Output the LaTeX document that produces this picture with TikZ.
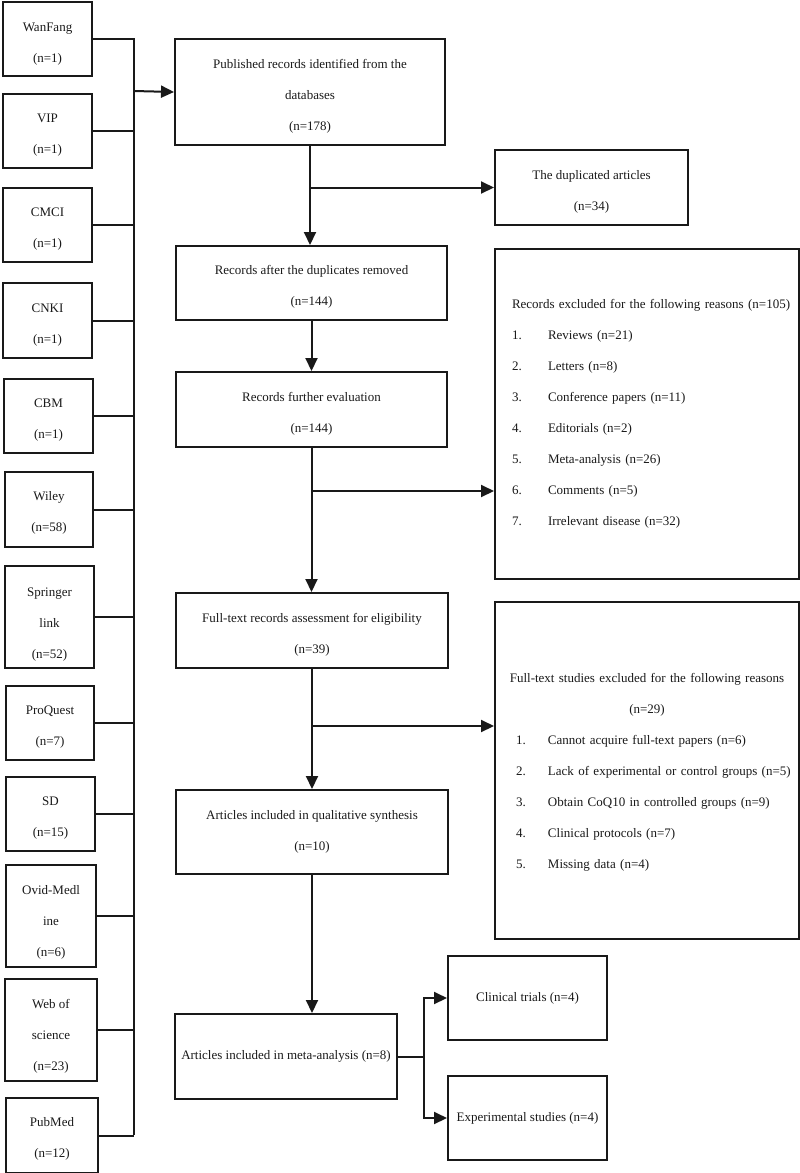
\documentclass[tikz,border=0pt]{standalone}
\usepackage{fontspec}
\setmainfont{Liberation Serif}
\usetikzlibrary{arrows.meta,calc}
\newcommand{\myLline}[1]{\makebox[\linewidth][l]{#1}}
\newcommand{\myCline}[1]{\makebox[\linewidth][c]{#1}}
\newcommand{\myUp}[1]{\rule{0pt}{#1}}
\begin{document}
\begin{tikzpicture}[x=1pt,y=-1pt,
  box/.style={draw=black!90, line width=2pt, align=center, anchor=north west,
    inner sep=2pt, font=\fontsize{13}{31}\selectfont, text=black!90},
  ln/.style={draw=black!90, line width=2pt},
  arr/.style={ln, -{Triangle[length=13pt,width=12pt]}}]
\useasboundingbox (0,0) rectangle (800,1173);
% left sources
\node[box, minimum width=89pt, minimum height=74pt] (wanfang) at (2,1) {\myUp{19pt}WanFang\\(n=1)};
\node[box, minimum width=89pt, minimum height=74pt] (vip) at (2,93) {\myUp{17pt}VIP\\(n=1)};
\node[box, minimum width=89pt, minimum height=74pt] (cmci) at (2,187) {\myUp{17pt}CMCI\\(n=1)};
\node[box, minimum width=89pt, minimum height=75pt] (cnki) at (2,282) {\myUp{17pt}CNKI\\(n=1)};
\node[box, minimum width=89pt, minimum height=74pt] (cbm) at (3,378) {\myUp{17pt}CBM\\(n=1)};
\node[box, minimum width=88pt, minimum height=75pt] (wiley) at (4,471) {\myUp{16pt}Wiley\\(n=58)};
\node[box, minimum width=89pt, minimum height=102pt] (springer) at (4,565) {\myUp{23pt}Springer\\link\\(n=52)};
\node[box, minimum width=88pt, minimum height=74pt] (proquest) at (5,685) {\myUp{17pt}ProQuest\\(n=7)};
\node[box, minimum width=89pt, minimum height=74pt] (sd) at (5,776) {\myUp{17pt}SD\\(n=15)};
\node[box, minimum width=90pt, minimum height=102pt] (ovid) at (5,864) {\myUp{21pt}Ovid-Medl\\ine\\(n=6)};
\node[box, minimum width=92pt, minimum height=102pt] (wos) at (4,978) {\myUp{21pt}Web of\\science\\(n=23)};
\node[box, minimum width=92pt, minimum height=75pt] (pubmed) at (5,1097) {\myUp{16pt}PubMed\\(n=12)};
% main column
\node[box, minimum width=270pt, minimum height=106pt] (b1) at (174,38) {\myUp{17pt}Published records identified from the\\databases\\(n=178)};
\node[box, minimum width=271pt, minimum height=74pt] (b2) at (175,245) {\myUp{17pt}Records after the duplicates removed\\(n=144)};
\node[box, minimum width=271pt, minimum height=75pt] (b3) at (175,371) {\myUp{17pt}Records further evaluation\\(n=144)};
\node[box, minimum width=272pt, minimum height=75pt] (b4) at (175,592) {\myUp{17pt}Full-text records assessment for eligibility\\(n=39)};
\node[box, minimum width=272pt, minimum height=84pt] (b5) at (175,789) {Articles included in qualitative synthesis\\(n=10)};
\node[box, minimum width=222pt, minimum height=85pt] (b6) at (174,1013) {Articles included in meta-analysis (n=8)};
% right column
\node[box, minimum width=193pt, minimum height=75pt] (dup) at (494,149) {\myUp{17pt}The duplicated articles\\(n=34)};
\node[box, minimum width=304pt, minimum height=330pt, text width=270pt, align=left] (exc1) at (494,248) {\myLline{Records excluded for the following reasons (n=105)}\\
\myLline{\makebox[36pt][l]{1.}Reviews (n=21)}\\
\myLline{\makebox[36pt][l]{2.}Letters (n=8)}\\
\myLline{\makebox[36pt][l]{3.}Conference papers (n=11)}\\
\myLline{\makebox[36pt][l]{4.}Editorials (n=2)}\\
\myLline{\makebox[36pt][l]{5.}Meta-analysis (n=26)}\\
\myLline{\makebox[36pt][l]{6.}Comments (n=5)}\\
\myLline{\makebox[36pt][l]{7.}Irrelevant disease (n=32)}};
\node[box, minimum width=304pt, minimum height=337pt, text width=262pt, align=left] (exc2) at (494,601) {\myCline{\myUp{13pt}Full-text studies excluded for the following reasons}\\
\myCline{(n=29)}\\
\myLline{\makebox[32pt][l]{1.}Cannot acquire full-text papers (n=6)}\\
\myLline{\makebox[32pt][l]{2.}Lack of experimental or control groups (n=5)}\\
\myLline{\makebox[32pt][l]{3.}Obtain CoQ10 in controlled groups (n=9)}\\
\myLline{\makebox[32pt][l]{4.}Clinical protocols (n=7)}\\
\myLline{\makebox[32pt][l]{5.}Missing data (n=4)}};
\node[box, minimum width=159pt, minimum height=84pt] (ct) at (447,955) {Clinical trials (n=4)};
\node[box, minimum width=159pt, minimum height=84pt] (es) at (447,1075) {Experimental studies (n=4)};
% bracket
\coordinate (bt) at (134,38);
\coordinate (bb) at (134,1135);
\coordinate (bj) at (134,91);
\draw[ln] (bt) -- (bb);
\foreach \n in {wanfang,vip,cmci,cnki,cbm,wiley,springer,proquest,sd,ovid,wos,pubmed}
  \draw[ln] (\n.east) -- (\n.east -| bt);
\draw[arr] (bj) -- (b1.west);
% main flow
\draw[arr] (b1.south) -- (b1.south |- b2.north);
\draw[arr] (b1.south |- dup.west) -- (dup.west);
\draw[arr] (b2.south) -- (b2.south |- b3.north);
\coordinate (j2) at ($(b3.south)+(0,43)$);
\draw[arr] (b3.south) -- (b3.south |- b4.north);
\draw[arr] (j2) -- (j2 -| exc1.west);
\coordinate (j3) at ($(b4.south)+(0,57)$);
\draw[arr] (b4.south) -- (b4.south |- b5.north);
\draw[arr] (j3) -- (j3 -| exc2.west);
\draw[arr] (b5.south) -- (b5.south |- b6.north);
\coordinate (s) at ($(b6.east)+(26,0)$);
\draw[ln] (b6.east) -- (s);
\draw[arr] (s) |- (ct.west);
\draw[arr] (s) |- (es.west);
\end{tikzpicture}
\end{document}
